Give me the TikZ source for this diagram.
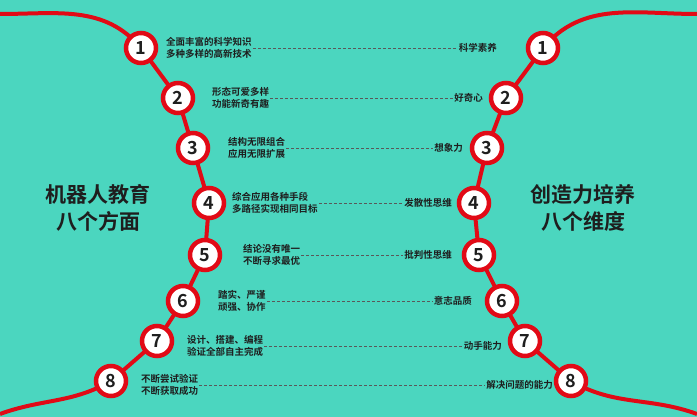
\documentclass[tikz,border=0pt]{standalone}
\usepackage{fontspec}
\setmainfont{Noto Sans CJK SC}[BoldFont={Noto Sans CJK SC Bold}]
\usetikzlibrary{positioning}
\definecolor{bgteal}{HTML}{4BD6BF}
\definecolor{ringred}{HTML}{E10A16}
\definecolor{inkdark}{HTML}{1E1E1E}
\tikzset{
    x=1pt, y=-1pt, % pixel grid of the reference
    num/.style={circle, draw=ringred, line width=4.5pt, fill=white, minimum size=30pt, inner sep=0pt, font=\fontsize{18}{18}\selectfont\bfseries, text=inkdark}, % numbered rings
    note/.style={anchor=west, align=left, font=\fontsize{9.5}{12}\selectfont\bfseries, text=inkdark, inner sep=1pt}, % two line notes
    aim/.style={anchor=east, font=\fontsize{9.5}{12}\selectfont\bfseries, text=inkdark, inner sep=1pt}, % right labels
    link/.style={gray!70!black, densely dashed, line width=0.6pt},
    chain/.style={ringred, line width=4pt},
    head/.style={align=center, font=\fontsize{21}{27}\selectfont\bfseries, text=inkdark},
}
\begin{document}
\begin{tikzpicture}
\fill[bgteal] (0,0) rectangle (697,417);
\useasboundingbox (0,0) rectangle (697,417);
% red chains behind the rings
\draw[chain] (0,14) to[out=0,in=130] (141,48) -- (178,98) -- (193,148) -- (209,203) -- (205,255) -- (183,301) -- (157,341) -- (111,381) to[out=-150,in=20] (0,414);
\draw[chain] (697,14) to[out=180,in=50] (543,48) -- (506,98) -- (487,148) -- (474,203) -- (479,255) -- (502,301) -- (525,341) -- (571,381) to[out=-30,in=160] (697,414);
% rings
\foreach \i/\lx/\rx/\y in {1/141/543/48, 2/178/506/98, 3/193/487/148, 4/209/474/203, 5/205/479/255, 6/183/502/301, 7/157/525/341, 8/111/571/381}{
  \node[num] (l\i) at (\lx,\y) {\i};
  \node[num] (r\i) at (\rx,\y) {\i};
}
% notes, aims and dashed links
\foreach \i/\nx/\ax/\y/\txt/\goal in {
  1/165/498/48/{全面丰富的科学知识\\多种多样的高新技术}/科学素养,
  2/211/484/98/{形态可爱多样\\功能新奇有趣}/好奇心,
  3/227/464/148/{结构无限组合\\应用无限扩展}/想象力,
  4/231/453/203/{综合应用各种手段\\多路径实现相同目标}/发散性思维,
  5/242/453/255/{结论没有唯一\\不断寻求最优}/批判性思维,
  6/217/473/301/{踏实、严谨\\顽强、协作}/意志品质,
  7/186/503/346/{设计、搭建、编程\\验证全部自主完成}/动手能力,
  8/140/554/385/{不断尝试验证\\不断获取成功}/解决问题的能力}{
  \node[note] (n\i) at (\nx,\y) {\txt};
  \node[aim] (a\i) at (\ax,\y) {\goal};
  \draw[link] (n\i.east) -- (a\i.west);
}
\node[head] (lefthead) at (98,208) {机器人教育\\八个方面};
\node[head] (righthead) at (583,208) {创造力培养\\八个维度};
\end{tikzpicture}
\end{document}
